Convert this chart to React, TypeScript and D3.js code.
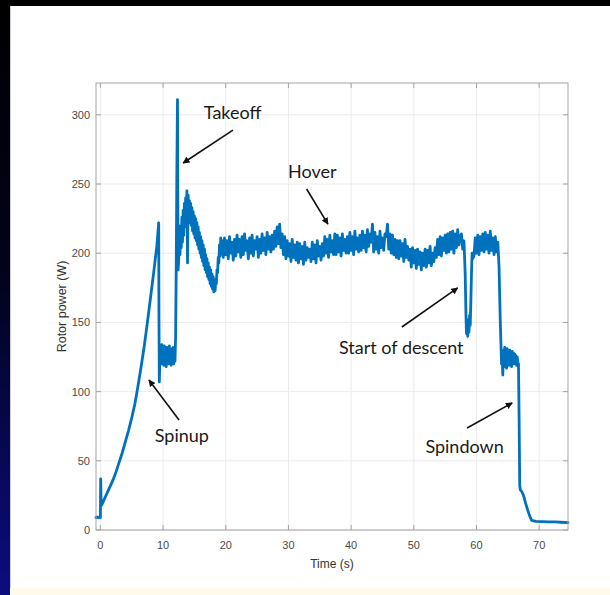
import React from "react";
import * as d3 from "d3";

// ---- data (time in s, rotor power in W) ----
const preT = [-0.7, -0.5, -0.3, -0.1, 0.0, 0.05, 0.1, 0.2];
const preP = [9, 9.5, 8.8, 9.2, 9, 37, 22, 18];

const spinupT = [0.5, 1, 1.5, 2, 2.5, 3, 3.5, 4, 4.5, 5, 5.5, 6, 6.5, 7, 7.5, 8, 8.5, 9, 9.3];
const spinupP = [21, 26, 31, 36, 42, 49, 56, 64, 72, 81, 91, 104, 118, 133, 150, 168, 186, 205, 222];

const dropT = [9.35, 9.4, 9.5];
const dropP = [150, 107, 124];

const groundStart = 9.6;
const groundStep = 0.1;
const groundP = [132, 120, 134, 122, 131, 119, 133, 121, 130, 118, 132, 122, 129, 120, 133, 121, 131, 119, 130, 123, 132, 120, 129, 122];

const liftT = [12.0, 12.1, 12.2, 12.3, 12.35, 12.4];
const liftP = [140, 190, 260, 311, 240, 188];

const climbStart = 12.5;
const climbStep = 0.1;
const climbP = [
  196, 214, 199, 220, 204, 226, 208, 231, 213, 236,
  219, 240, 226, 245, 193, 242, 224, 238, 222, 236,
  220, 233, 216, 230, 214, 227, 211, 225, 209, 222,
  206, 219, 203, 215, 200, 212, 197, 209, 194, 206,
  191, 203, 188, 199, 186, 196, 183, 193, 181, 190,
  178, 188, 176, 185, 174, 183, 172, 181, 173, 180,
  178, 188, 186, 197, 193, 206, 198, 211, 200, 209,
];

const hoverStart = 19.6;
const hoverStep = 0.2;
const hoverP = [
  197, 211, 199, 209, 196, 212, 200, 208, 195, 210,
  198, 213, 201, 210, 197, 212, 199, 214, 202, 209,
  196, 211, 200, 213, 198, 209, 203, 212, 197, 210,
  200, 214, 202, 211, 199, 215, 203, 212, 201, 213,
  203, 216, 205, 219, 207, 221, 204, 214, 199, 212,
  196, 209, 198, 207, 194, 210, 197, 206, 195, 208,
  193, 207, 196, 205, 192, 208, 195, 204, 197, 203,
  194, 208, 196, 206, 193, 209, 198, 205, 195, 207,
  198, 212, 200, 210, 197, 213, 201, 209, 199, 214,
  199, 213, 201, 211, 198, 214, 202, 210, 200, 212,
  200, 215, 202, 212, 199, 216, 203, 211, 201, 213,
  202, 216, 204, 213, 201, 217, 205, 214, 208, 221,
  201, 215, 203, 212, 200, 216, 204, 211, 202, 214,
  212, 221, 203, 214, 200, 213, 199, 210, 197, 209,
  196, 209, 198, 207, 194, 210, 197, 205, 195, 203,
  190, 204, 193, 202, 189, 203, 192, 201, 188, 200,
  191, 203, 190, 202, 193, 205, 191, 200, 194, 204,
  197, 210, 199, 212, 198, 211, 202, 213, 200, 214,
  201, 215, 203, 216, 200, 214, 204, 217, 206, 212,
  214, 203, 209,
];

const descentT = [58.2, 58.3, 58.4, 58.5, 58.6, 58.7, 58.8, 58.9, 59.0, 59.1, 59.2, 59.3, 59.4];
const descentP = [185, 160, 142, 152, 140, 150, 143, 155, 148, 165, 185, 200, 196];

const lateStart = 59.6;
const lateStep = 0.2;
const lateP = [198, 211, 200, 213, 199, 212, 202, 214, 201, 215, 203, 213, 200, 216, 202, 211, 199, 212, 201, 208];

const landT = [63.6, 63.8, 64.0, 64.1];
const landP = [190, 150, 120, 125];

const idleStart = 64.2;
const idleStep = 0.1;
const idleP = [112, 130, 118, 132, 120, 129, 117, 131, 121, 128, 119, 130, 122, 127, 118, 129, 121, 128, 120, 127, 122, 126, 119, 125, 121];

const tailT = [66.7, 66.8, 66.9, 67.0, 67.2, 67.5, 67.8, 68.2, 68.5, 68.8, 69.5, 70.5, 71.5, 72.5, 73.5, 74.6];
const tailP = [120, 80, 32, 29, 28, 25, 20, 14, 10, 7, 6.3, 6.1, 5.9, 5.8, 5.6, 5.4];

const xTicks = [0, 10, 20, 30, 40, 50, 60, 70];
const yTicks = [0, 50, 100, 150, 200, 250, 300];

// annotations: label, text anchor (t, P), arrow tail (t, P), arrow head (t, P)
const annLabels = ["Takeoff", "Hover", "Start of descent", "Spinup", "Spindown"];
const annText = [[21.1, 297], [33.8, 254.3], [48.0, 127.2], [13.0, 63.6], [58.1, 55.6]];
const annTail = [[21.15, 289], [32.9, 246.4], [48.1, 146.7], [12.55, 79.5], [58.5, 73.7]];
const annHead = [[13.2, 265.2], [36.3, 221], [57.0, 174.9], [7.75, 108.4], [65.7, 91.8]];

type Pt = { t: number; p: number };

function pairs(ts: number[], ps: number[]): Pt[] {
  return ts.map((t, i) => ({ t, p: ps[i] }));
}
function sampled(start: number, step: number, ps: number[]): Pt[] {
  return ps.map((p, i) => ({ t: start + i * step, p }));
}

const series: Pt[] = [
  ...pairs(preT, preP),
  ...pairs(spinupT, spinupP),
  ...pairs(dropT, dropP),
  ...sampled(groundStart, groundStep, groundP),
  ...pairs(liftT, liftP),
  ...sampled(climbStart, climbStep, climbP),
  ...sampled(hoverStart, hoverStep, hoverP),
  ...pairs(descentT, descentP),
  ...sampled(lateStart, lateStep, lateP),
  ...pairs(landT, landP),
  ...sampled(idleStart, idleStep, idleP),
  ...pairs(tailT, tailP),
];

export default function App() {
  const W = 610;
  const H = 595;
  const left = 96, right = 568, top = 83, bottom = 530;
  const x = d3.scaleLinear().domain([-0.7, 74.6]).range([left, right]);
  const y = d3.scaleLinear().domain([0, 323]).range([bottom, top]);
  const line = d3
    .line<Pt>()
    .x((d) => x(d.t))
    .y((d) => y(d.p));

  const axisColor = "#a3a3a3";
  const gridColor = "#ebebeb";
  const tickColor = "#4a4a4a";
  const font = "'Liberation Sans', Arial, Helvetica, sans-serif";
  const tl = 5;

  return (
    <svg
      width={W}
      height={H}
      style={{ position: "absolute", left: 0, top: 0, background: "#fff" }}
    >
      <defs>
        <linearGradient id="leftband" x1="0" y1="0" x2="0" y2="1">
          <stop offset="0" stopColor="#000" />
          <stop offset="0.45" stopColor="#02021a" />
          <stop offset="1" stopColor="#0c0c80" />
        </linearGradient>
        <marker
          id="ah"
          viewBox="0 0 10 10"
          refX="9"
          refY="5"
          markerWidth="7"
          markerHeight="7"
          markerUnits="userSpaceOnUse"
          orient="auto"
        >
          <path d="M0,0 L10,5 L0,10 z" fill="#111" />
        </marker>
      </defs>
      <rect x={0} y={0} width={W} height={H} fill="#fff" />
      {/* frame */}
      <rect x={0} y={0} width={W} height={6} fill="#000" />
      <rect x={0} y={0} width={10} height={H} fill="url(#leftband)" />
      <line x1={10.5} y1={6} x2={10.5} y2={H} stroke="#cfcfcf" />
      <rect x={10} y={588} width={W - 10} height={7} fill="#fffaea" />

      {/* grid */}
      {xTicks.map((v) => (
        <line key={"gx" + v} x1={x(v)} x2={x(v)} y1={top} y2={bottom} stroke={gridColor} />
      ))}
      {yTicks.map((v) => (
        <line key={"gy" + v} x1={left} x2={right} y1={y(v)} y2={y(v)} stroke={gridColor} />
      ))}

      {/* data */}
      <path
        d={line(series) || ""}
        fill="none"
        stroke="#0072BD"
        strokeWidth={2.8}
        strokeLinejoin="round"
        strokeLinecap="round"
      />

      {/* axes box */}
      <rect x={left} y={top} width={right - left} height={bottom - top} fill="none" stroke={axisColor} />
      {xTicks.map((v) => (
        <g key={"tx" + v}>
          <line x1={x(v)} x2={x(v)} y1={bottom} y2={bottom - tl} stroke={axisColor} />
          <line x1={x(v)} x2={x(v)} y1={top} y2={top + tl} stroke={axisColor} />
          <text x={x(v)} y={549} textAnchor="middle" fontSize={11} fill={tickColor} fontFamily={font}>
            {v}
          </text>
        </g>
      ))}
      {yTicks.map((v) => (
        <g key={"ty" + v}>
          <line x1={left} x2={left + tl} y1={y(v)} y2={y(v)} stroke={axisColor} />
          <line x1={right} x2={right - tl} y1={y(v)} y2={y(v)} stroke={axisColor} />
          <text x={90} y={y(v) + 4} textAnchor="end" fontSize={11} fill={tickColor} fontFamily={font}>
            {v}
          </text>
        </g>
      ))}
      <text x={(left + right) / 2} y={568} textAnchor="middle" fontSize={12} fill="#333" fontFamily={font}>
        Time (s)
      </text>
      <text
        transform={`translate(66,${(top + bottom) / 2}) rotate(-90)`}
        textAnchor="middle"
        fontSize={12.5}
        fill="#333"
        fontFamily={font}
      >
        Rotor power (W)
      </text>

      {/* annotations */}
      {annLabels.map((lab, i) => (
        <g key={lab}>
          <line
            x1={x(annTail[i][0])}
            y1={y(annTail[i][1])}
            x2={x(annHead[i][0])}
            y2={y(annHead[i][1])}
            stroke="#111"
            strokeWidth={1.6}
            markerEnd="url(#ah)"
          />
          <text
            x={x(annText[i][0])}
            y={y(annText[i][1])}
            textAnchor="middle"
            fontSize={18}
            fill="#1a1a1a"
            fontFamily="Lato, 'Open Sans', sans-serif"
          >
            {lab}
          </text>
        </g>
      ))}
    </svg>
  );
}
